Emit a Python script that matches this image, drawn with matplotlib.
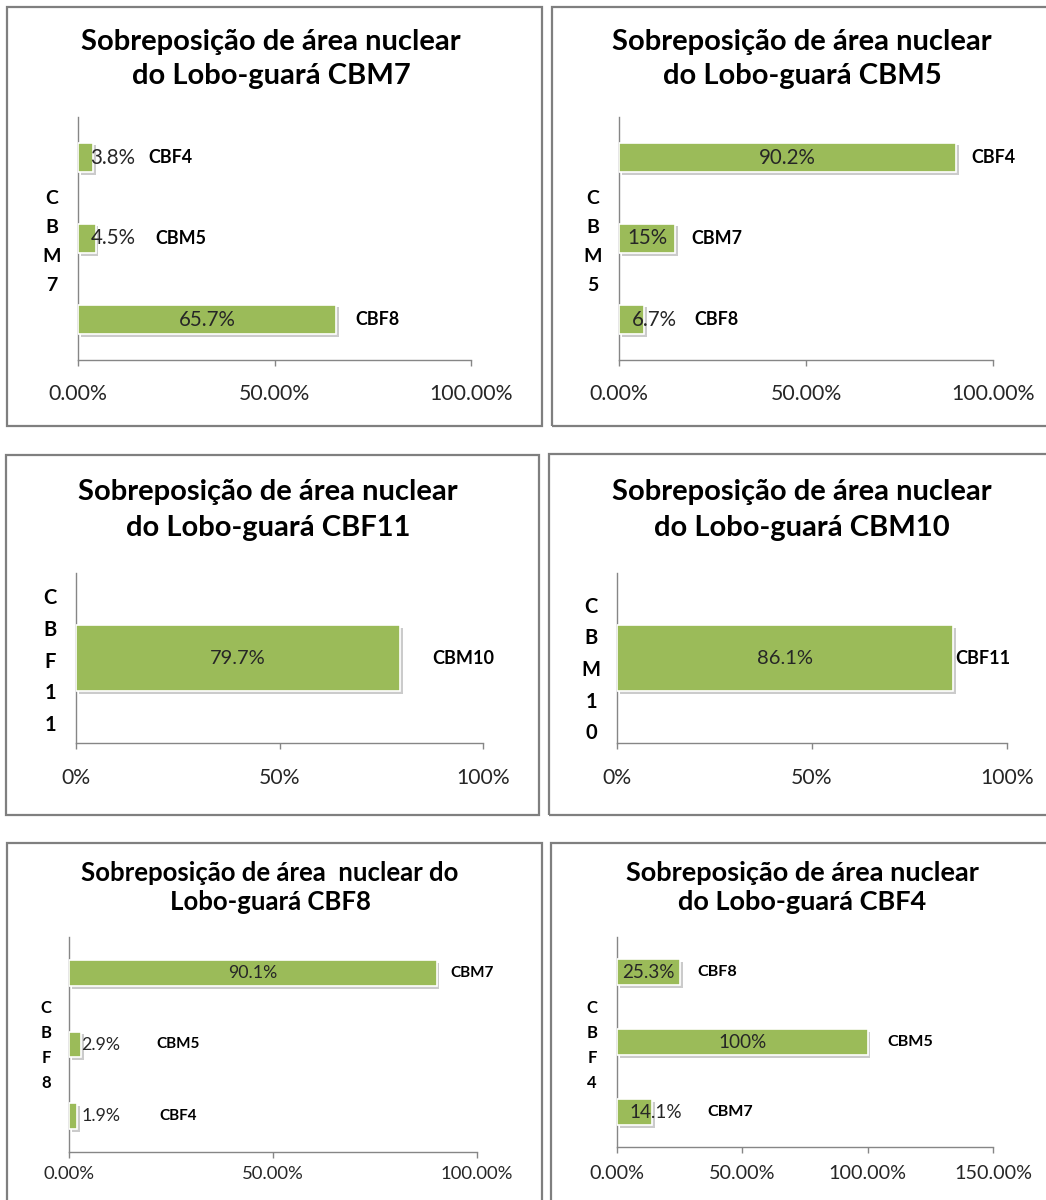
import matplotlib
matplotlib.use("Agg")
import matplotlib.pyplot as plt
from matplotlib.patches import Rectangle
import matplotlib.patheffects as pe
from matplotlib.ticker import FixedLocator

plt.rcParams['font.family'] = ['Lato', 'DejaVu Sans']

# ---------------- data ----------------
titles = [
    ("Sobreposição de área nuclear", "do Lobo-guará CBM7"),
    ("Sobreposição de área nuclear", "do Lobo-guará CBM5"),
    ("Sobreposição de área nuclear", "do Lobo-guará CBF11"),
    ("Sobreposição de área nuclear", "do Lobo-guará CBM10"),
    ("Sobreposição de área  nuclear do", "Lobo-guará CBF8"),
    ("Sobreposição de área nuclear", "do Lobo-guará CBF4"),
]
axis_names = ["CBM7", "CBM5", "CBF11", "CBM10", "CBF8", "CBF4"]

cats_cbm7 = ["CBF4", "CBM5", "CBF8"]
vals_cbm7 = [3.8, 4.5, 65.7]
cats_cbm5 = ["CBF4", "CBM7", "CBF8"]
vals_cbm5 = [90.2, 15, 6.7]
cats_cbf11 = ["CBM10"]
vals_cbf11 = [79.7]
cats_cbm10 = ["CBF11"]
vals_cbm10 = [86.1]
cats_cbf8 = ["CBM7", "CBM5", "CBF4"]
vals_cbf8 = [90.1, 2.9, 1.9]
cats_cbf4 = ["CBF8", "CBM5", "CBM7"]
vals_cbf4 = [25.3, 100, 14.1]

ticks_a = [0, 50, 100]
ticklabels_a = ["0.00%", "50.00%", "100.00%"]
ticks_b = [0, 50, 100]
ticklabels_b = ["0%", "50%", "100%"]
ticks_c = [0, 50, 100, 150]
ticklabels_c = ["0.00%", "50.00%", "100.00%", "150.00%"]

categories = [cats_cbm7, cats_cbm5, cats_cbf11, cats_cbm10, cats_cbf8, cats_cbf4]
values = [vals_cbm7, vals_cbm5, vals_cbf11, vals_cbm10, vals_cbf8, vals_cbf4]
ticks = [ticks_a, ticks_a, ticks_b, ticks_b, ticks_a, ticks_c]
ticklabels = [ticklabels_a, ticklabels_a, ticklabels_b, ticklabels_b, ticklabels_a, ticklabels_c]

# ---------------- layout (pixels) ----------------
W, H = 1046, 1200
fig = plt.figure(figsize=(W / 100, H / 100), dpi=100)
fig.patch.set_facecolor("white")

def fx(x):
    return x / W

def fy(y):
    return 1 - y / H

# panel boxes: x0, y0, x1, y1
boxes = [(7, 7, 542, 426), (552, 7, 1050, 426),
         (6, 455, 539, 815), (549, 454, 1050, 815),
         (7, 843, 542, 1205), (551, 843, 1050, 1205)]
# axes: x0, x(max), top, bottom
axes_px = [(78, 471, 117, 360), (619, 993, 117, 360),
           (76, 483, 573, 743), (617, 1007, 573, 743),
           (69, 477, 937, 1152), (617, 993, 937, 1147)]
title_pos = [(271, 42, 76), (802, 42, 76), (268, 492, 528), (802, 492, 528),
             (270, 873, 902), (802, 873, 902)]
title_size = [21, 21, 21, 21, 18.5, 19.5]
letter_pos = [(52, 242, 29.3), (593, 242, 29.3), (50, 661.5, 31.8),
              (591, 670, 31.5), (46, 1045.5, 25), (592, 1045.5, 25)]
letter_size = [14, 14, 14.5, 14.5, 12, 12]
bar_frac = [0.37, 0.37, 0.39, 0.39, 0.36, 0.37]
tick_size = [15.3, 15.3, 15.2, 15.2, 13.3, 14.2]
tick_pad = [13, 13, 14, 14, 6, 9]
value_size = [14.8, 14.8, 14.5, 14.5, 12.8, 13.6]
name_size = [12.9, 12.9, 13, 13, 11, 11.6]
name_x = [[23.4, 26.2, 76.3], [100, 26.2, 26.2], [95.1], [93.8],
          [98.8, 26.7, 26.7], [39.9, 117, 45.1]]

GREEN = "#9BBB59"
GRAY = "#868686"
TXT = "#262626"

for i in range(6):
    bx0, by0, bx1, by1 = boxes[i]
    fig.add_artist(Rectangle((fx(bx0), fy(by1)), fx(bx1 - bx0), (by1 - by0) / H,
                             transform=fig.transFigure, fill=False,
                             edgecolor="#7f7f7f", linewidth=1.6))
    ax0, ax1, at, ab = axes_px[i]
    ax = fig.add_axes([fx(ax0), fy(ab), fx(ax1 - ax0), (ab - at) / H])
    ax.set_facecolor("none")
    cats = categories[i]
    vals = values[i]
    n = len(cats)
    ypos = list(range(n))
    xmax = ticks[i][-1]
    bars = ax.barh(ypos, vals, height=bar_frac[i], color=GREEN,
                   edgecolor="white", linewidth=1.2, zorder=3)
    for b in bars:
        b.set_path_effects([pe.SimplePatchShadow(offset=(2, -2), shadow_rgbFace="#555555", alpha=0.3),
                            pe.Normal()])
    ax.set_xlim(0, xmax)
    ax.set_ylim(n - 0.5, -0.5)
    ax.xaxis.set_major_locator(FixedLocator(ticks[i]))
    ax.set_xticklabels(ticklabels[i], fontsize=tick_size[i], color=TXT)
    ax.tick_params(axis="x", direction="out", length=4, width=1, color=GRAY, pad=tick_pad[i])
    ax.set_yticks([])
    for s in ["top", "right"]:
        ax.spines[s].set_visible(False)
    for s in ["left", "bottom"]:
        ax.spines[s].set_color(GRAY)
        ax.spines[s].set_linewidth(1)
    # pixels per data unit
    ppu = (ax1 - ax0) / xmax
    for j, v in enumerate(vals):
        lbl = f"{v:g}%"
        if v * ppu >= 55:
            ax.text(v / 2, j, lbl, ha="center", va="center", fontsize=value_size[i],
                    color=TXT, zorder=5)
        else:
            ax.annotate(lbl, xy=(0, j), xytext=(9, 0), textcoords="offset points",
                        ha="left", va="center", fontsize=value_size[i], color=TXT, zorder=5)
        ax.text(name_x[i][j], j, cats[j], ha="center", va="center",
                fontsize=name_size[i], fontweight="bold", color="black", clip_on=False)
    # title
    tx, ty1, ty2 = title_pos[i]
    fig.text(fx(tx), fy(ty1), titles[i][0], ha="center", va="center",
             fontsize=title_size[i], fontweight="bold", color="black")
    fig.text(fx(tx), fy(ty2), titles[i][1], ha="center", va="center",
             fontsize=title_size[i], fontweight="bold", color="black")
    # vertical stacked axis label
    lx, lyc, lsp = letter_pos[i]
    letters = list(axis_names[i])
    for k, ch in enumerate(letters):
        yy = lyc + (k - (len(letters) - 1) / 2) * lsp
        fig.text(fx(lx), fy(yy), ch, ha="center", va="center",
                 fontsize=letter_size[i], fontweight="bold", color="black")

fig.savefig("out.png", dpi=100, facecolor="white")
